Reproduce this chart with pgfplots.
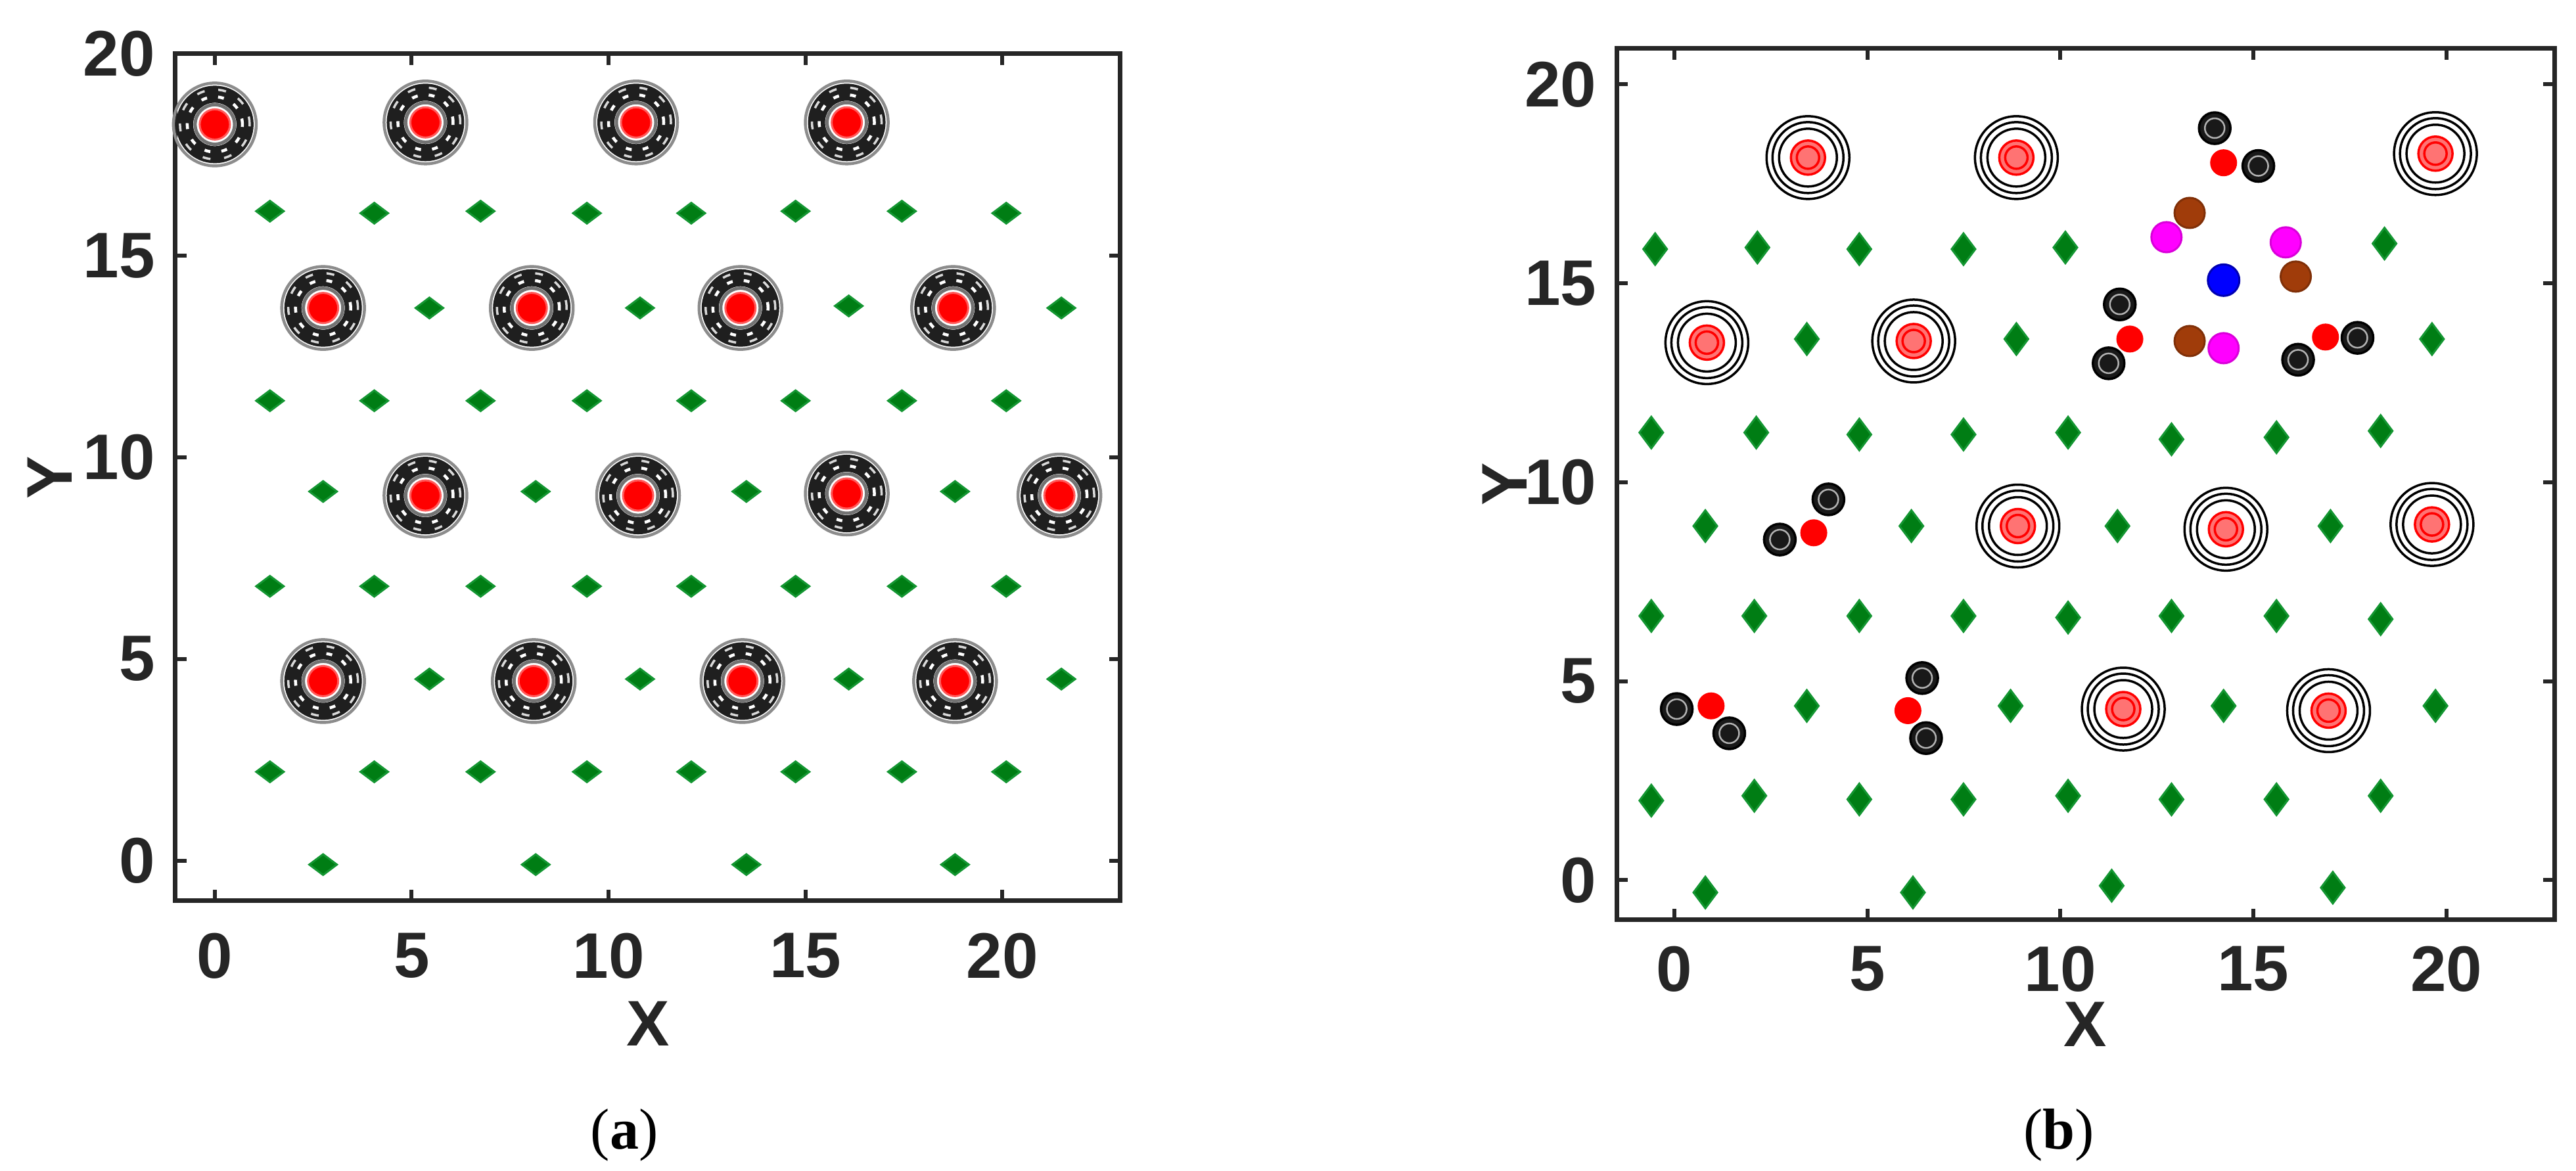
\documentclass[border=0pt]{standalone}
\usepackage{pgfplots}
\pgfplotsset{compat=1.18}
\usepackage{pgfplotstable}
\usepackage{fontspec}
\setmainfont{Liberation Sans}
\newfontfamily\capfont{Liberation Serif}
\definecolor{mgreen}{RGB}{0,125,20}
\definecolor{mgreenb}{RGB}{20,150,50}
\definecolor{mbrown}{RGB}{160,60,10}
\definecolor{mmag}{RGB}{255,0,255}
\definecolor{axcol}{RGB}{38,38,38}

% ---------- panel (a) ----------
\pgfplotstableread{
x y
0 18.25
5.35 18.3
10.7 18.3
16.05 18.3
2.75 13.7
8.05 13.7
13.35 13.7
18.75 13.7
5.35 9.05
10.75 9.05
16.05 9.1
21.45 9.05
2.75 4.45
8.1 4.45
13.4 4.45
18.8 4.45
}\abig
\pgfplotstableread{
x y
1.4 16.1
4.05 16.05
6.75 16.1
9.45 16.05
12.1 16.05
14.75 16.1
17.45 16.1
20.1 16.05
5.45 13.7
10.8 13.7
16.1 13.75
21.5 13.7
1.4 11.4
4.05 11.4
6.75 11.4
9.45 11.4
12.1 11.4
14.75 11.4
17.45 11.4
20.1 11.4
2.75 9.15
8.15 9.15
13.5 9.15
18.8 9.15
1.4 6.8
4.05 6.8
6.75 6.8
9.45 6.8
12.1 6.8
14.75 6.8
17.45 6.8
20.1 6.8
5.45 4.5
10.8 4.5
16.1 4.5
21.5 4.5
1.4 2.2
4.05 2.2
6.75 2.2
9.45 2.2
12.1 2.2
14.75 2.2
17.45 2.2
20.1 2.2
2.75 -0.1
8.15 -0.1
13.5 -0.1
18.8 -0.1
}\agreen

% ---------- panel (b) ----------
\pgfplotstableread{
x y
3.46 18.16
8.86 18.16
19.72 18.26
0.84 13.51
6.2 13.55
8.9 8.9
14.29 8.82
19.63 8.94
11.63 4.3
16.95 4.26
}\bbig
\pgfplotstableread{
x y
14.23 18.03
11.8 13.6
16.87 13.65
3.61 8.73
0.95 4.38
6.05 4.26
}\bredsmall
\pgfplotstableread{
x y
14.0 18.9
15.13 17.95
11.54 14.47
11.25 12.99
17.7 13.63
16.16 13.08
3.99 9.57
2.73 8.56
0.06 4.3
1.42 3.69
6.42 5.08
6.52 3.57
}\bblack
\pgfplotstableread{
x y
13.35 16.77
16.1 15.17
13.35 13.55
}\bbrown
\pgfplotstableread{
x y
12.75 16.16
15.84 16.03
14.23 13.37
}\bmag
\pgfplotstableread{
x y
14.23 15.08
}\bblue
\pgfplotstableread{
x y
-0.5 15.86
2.15 15.9
4.79 15.86
7.49 15.86
10.13 15.9
18.4 16.0
3.43 13.6
8.86 13.6
19.63 13.6
-0.6 11.25
2.12 11.25
4.79 11.2
7.49 11.2
10.2 11.25
12.88 11.08
15.6 11.13
18.3 11.29
0.8 8.9
6.14 8.9
11.48 8.9
17.0 8.9
-0.6 6.64
2.07 6.64
4.79 6.64
7.49 6.64
10.2 6.6
12.88 6.64
15.6 6.64
18.3 6.56
3.43 4.38
8.71 4.38
14.23 4.38
19.72 4.38
-0.6 2.0
2.07 2.12
4.79 2.03
7.49 2.03
10.2 2.12
12.88 2.03
15.6 2.03
18.3 2.12
0.8 -0.31
6.18 -0.31
11.33 -0.14
17.06 -0.19
}\bgreen

\pgfplotsset{
  panel/.style={
    scale only axis,
    axis line style={axcol, line width=0.7pt},
    every tick/.style={axcol, line width=0.6pt},
    major tick length=1.7pt,
    tick align=inside,
    xtick={0,5,10,15,20}, ytick={0,5,10,15,20},
    /pgf/number format/assume math mode=true,
    ticklabel style={font=\fontsize{9.8}{11}\selectfont\bfseries, text=axcol, inner sep=1pt},
    label style={font=\fontsize{9.8}{11}\selectfont\bfseries, text=axcol, inner sep=0pt},
    yticklabel style={xshift=-1.9pt},
    xlabel={X}, ylabel={Y},
  },
  mk/.style={only marks, forget plot},
}

\begin{document}
\begin{tikzpicture}
\path[use as bounding box] (0pt,0pt) rectangle (392pt,178.2pt);

% ================= (a) =================
\begin{axis}[panel,
  at={(26.7pt,41.1pt)}, anchor=south west,
  width=143.8pt, height=128.9pt,
  xmin=-1, xmax=23, ymin=-1, ymax=20,
  xticklabel style={yshift=-3.7pt},
  xlabel style={at={(axis description cs:0.5,-0.145)}, anchor=center},
  ylabel style={at={(axis description cs:-0.133,0.5)}, anchor=center, rotate=0},
]
\addplot[mk, mark=o, mark size=6.3pt, mark options={draw=black!45, line width=0.45pt}] table {\abig};
\addplot[mk, mark=o, mark size=4.6pt, mark options={draw=black!88, line width=2.6pt}] table {\abig};
\addplot[mk, mark=o, mark size=5.3pt, mark options={draw=white!85!black, line width=0.35pt, dash pattern=on 1.2pt off 2.1pt}] table {\abig};
\addplot[mk, mark=o, mark size=4.2pt, mark options={draw=white, line width=0.45pt, dash pattern=on 0.9pt off 1.7pt}] table {\abig};
\addplot[mk, mark=o, mark size=3.0pt, mark options={draw=black!55, line width=0.5pt}] table {\abig};
\addplot[mk, mark=*, mark size=2.3pt, mark options={fill=red, draw={rgb,255:red,255;green,90;blue,90}, line width=0.3pt}] table {\abig};
\addplot[mk, mark=diamond*, mark size=2.1pt, mark options={rotate=90, fill=mgreen, draw=mgreenb, line width=0.3pt}] table {\agreen};
\end{axis}

% ================= (b) =================
\begin{axis}[panel,
  at={(246.0pt,38.2pt)}, anchor=south west,
  width=142.7pt, height=132.6pt,
  xmin=-1.5, xmax=22.8, ymin=-1, ymax=20.9,
  xticklabel style={yshift=-2.8pt},
  xlabel style={at={(axis description cs:0.5,-0.12)}, anchor=center},
  ylabel style={at={(axis description cs:-0.119,0.5)}, anchor=center, rotate=0},
]
\addplot[mk, mark=o, mark size=6.3pt, mark options={draw=black, line width=0.35pt}] table {\bbig};
\addplot[mk, mark=o, mark size=5.4pt, mark options={draw=black, line width=0.35pt}] table {\bbig};
\addplot[mk, mark=o, mark size=4.4pt, mark options={draw=black, line width=0.35pt}] table {\bbig};
\addplot[mk, mark=*, mark size=2.6pt, mark options={fill=red!55, draw=red, line width=0.35pt}] table {\bbig};
\addplot[mk, mark=o, mark size=1.7pt, mark options={draw=red, line width=0.35pt}] table {\bbig};
\addplot[mk, mark=*, mark size=1.9pt, mark options={fill=red, draw=red, line width=0.3pt}] table {\bredsmall};
\addplot[mk, mark=*, mark size=2.4pt, mark options={fill=black!90, draw=black, line width=0.35pt}] table {\bblack};
\addplot[mk, mark=o, mark size=1.5pt, mark options={draw=white!70!black, line width=0.25pt}] table {\bblack};
\addplot[mk, mark=*, mark size=2.3pt, mark options={fill=mbrown, draw=mbrown!80!black, line width=0.3pt}] table {\bbrown};
\addplot[mk, mark=*, mark size=2.3pt, mark options={fill=mmag, draw=mmag!85!black, line width=0.3pt}] table {\bmag};
\addplot[mk, mark=*, mark size=2.4pt, mark options={fill=blue, draw=blue!70!black, line width=0.3pt}] table {\bblue};
\addplot[mk, mark=diamond*, mark size=2.4pt, mark options={fill=mgreen, draw=mgreenb, line width=0.3pt}] table {\bgreen};
\end{axis}

\node[font=\capfont\fontsize{8.8}{10}\selectfont] at (95.0pt,5.5pt) {(\textbf{a})};
\node[font=\capfont\fontsize{8.8}{10}\selectfont] at (313.3pt,5.5pt) {(\textbf{b})};
\end{tikzpicture}
\end{document}
